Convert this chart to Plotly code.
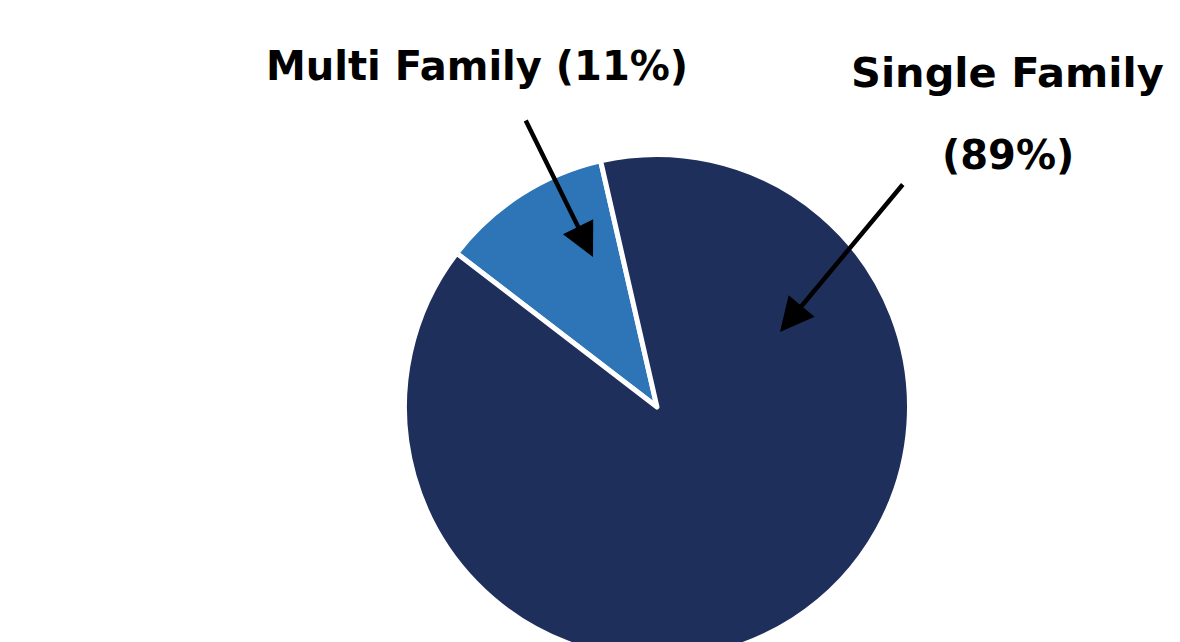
import plotly.graph_objects as go

categories = ["Multi Family", "Single Family"]
shares = [11, 89]
slice_colors = ["#2E75B8", "#1F2F5C"]
label_lines = ["<b>Multi Family (11%)</b>", "<b>Single Family</b>", "<b>(89%)</b>"]

W, H = 1180, 700

def px(x):
    return x / W

def py(y):
    return 1 - y / H

cx, cy, r = 657, 407, 252.5

fig = go.Figure(go.Pie(
    labels=categories,
    values=shares,
    sort=False,
    direction="counterclockwise",
    rotation=-52.5,
    marker=dict(colors=slice_colors, line=dict(color="white", width=5)),
    textinfo="none",
    hoverinfo="label+percent",
    showlegend=False,
    domain=dict(x=[px(cx - r), px(cx + r)], y=[py(cy + r), py(cy - r)]),
))

font = dict(family="DejaVu Sans, sans-serif", size=40, color="black")
fig.add_annotation(x=px(477), y=py(66), xref="paper", yref="paper", text=label_lines[0],
                   showarrow=False, font=font, xanchor="center", yanchor="middle")
fig.add_annotation(x=px(1007), y=py(72), xref="paper", yref="paper", text=label_lines[1],
                   showarrow=False, font=dict(font, size=41.5), xanchor="center", yanchor="middle")
fig.add_annotation(x=px(1008), y=py(155), xref="paper", yref="paper", text=label_lines[2],
                   showarrow=False, font=font, xanchor="center", yanchor="middle")

# arrows
fig.add_annotation(x=px(593), y=py(257), xref="paper", yref="paper", text="",
                   showarrow=True, ax=-68, ay=-138, arrowhead=2, arrowsize=1.5,
                   arrowwidth=4.5, arrowcolor="black", standoff=0)
fig.add_annotation(x=px(780), y=py(332), xref="paper", yref="paper", text="",
                   showarrow=True, ax=124, ay=-149, arrowhead=2, arrowsize=1.5,
                   arrowwidth=4.5, arrowcolor="black", standoff=0)

fig.update_layout(
    width=W, height=H,
    margin=dict(l=0, r=0, t=0, b=0),
    paper_bgcolor="white", plot_bgcolor="white",
)

post = ("var gd=document.getElementById('{plot_id}');"
        "gd.style.height='642px';gd.style.overflow='hidden';"
        "document.body.style.margin='0';document.body.style.overflow='hidden';"
        "document.documentElement.style.overflow='hidden';")
fig.write_html("out.html", post_script=post, config={"displayModeBar": False})
